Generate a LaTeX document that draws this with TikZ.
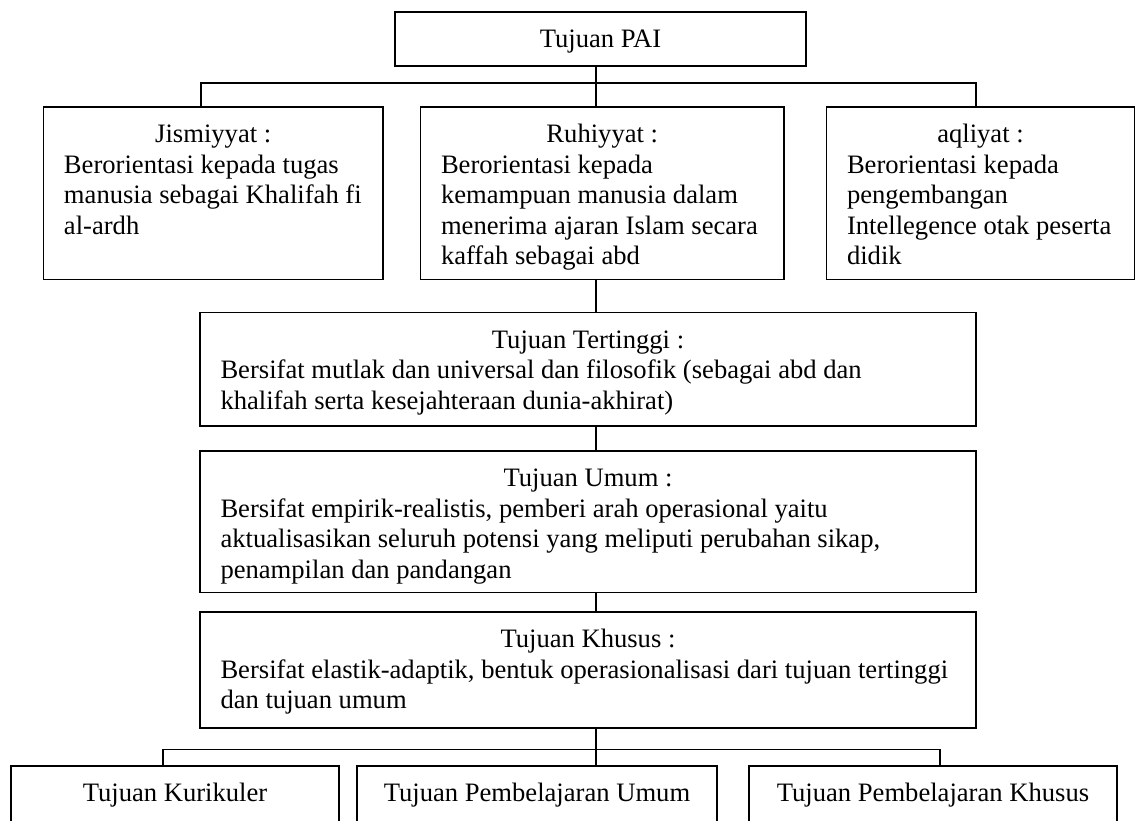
\documentclass[tikz,border=0pt]{standalone}
\usepackage{fontspec}
\setmainfont{Liberation Serif}[Ligatures=NoCommon]
\newcommand{\tbox}[4]{%
  \parbox[c][#1][t]{#2}{\fontsize{26.6pt}{30.5pt}\selectfont\frenchspacing
    \centering\rule{0pt}{36pt}#3\par
    \raggedright\leftskip=20.5pt #4\par}}
\tikzset{
  frame/.style={draw, line width=1.6pt, inner sep=0pt, outer sep=0pt, anchor=north west},
  link/.style={line width=1.6pt}
}
\begin{document}
\begin{tikzpicture}[x=1pt,y=-1pt]
\path[fill=white, use as bounding box] (0,0) rectangle (1136,820);
% top
\node[frame] (top) at (395,11.7) {\tbox{54.3pt}{411pt}{Tujuan PAI}{}};
% first row
\node[frame] (jis) at (43.5,106.7) {\tbox{172.6pt}{339.5pt}{Jismiyyat :}{Berorientasi kepada tugas\\ manusia sebagai Khalifah fi\\ al-ardh}};
\node[frame] (ruh) at (420.5,106.7) {\tbox{172.6pt}{363.5pt}{Ruhiyyat :}{Berorientasi kepada\\ kemampuan manusia dalam\\ menerima ajaran Islam secara\\ kaffah sebagai abd}};
\node[frame] (aql) at (826.5,106.7) {\tbox{172.6pt}{308pt}{aqliyat :}{Berorientasi kepada\\ pengembangan\\ Intellegence otak peserta\\ didik}};
% middle column
\node[frame] (tert) at (200,312.3) {\tbox{113.4pt}{776pt}{Tujuan Tertinggi :}{Bersifat mutlak dan universal dan filosofik (sebagai abd dan\\ khalifah serta kesejahteraan dunia-akhirat)}};
\node[frame] (umum) at (200,450.7) {\tbox{141.6pt}{776pt}{Tujuan Umum :}{Bersifat empirik-realistis, pemberi arah operasional yaitu\\ aktualisasikan seluruh potensi yang meliputi perubahan sikap,\\ penampilan dan pandangan}};
\node[frame] (khus) at (200,611.7) {\tbox{116pt}{776pt}{Tujuan Khusus :}{Bersifat elastik-adaptik, bentuk operasionalisasi dari tujuan tertinggi\\ dan tujuan umum}};
% bottom row
\node[frame] (kur) at (11,765.7) {\tbox{80pt}{328pt}{Tujuan Kurikuler}{}};
\node[frame] (pum) at (357,765.7) {\tbox{80pt}{360pt}{Tujuan Pembelajaran Umum}{}};
\node[frame] (pkh) at (749,765.7) {\tbox{80pt}{368pt}{Tujuan Pembelajaran Khusus}{}};
% connector coordinates
\coordinate (c1) at (596,82.7);
\coordinate (b1l) at (201,82.7);
\coordinate (b1r) at (976,82.7);
\coordinate (b2l) at (163,749.3);
\coordinate (b2r) at (940,749.3);
% connectors
\draw[link] (top.south -| c1) -- (ruh.north -| c1);
\draw[link] (jis.north -| b1l) -- (b1l) -- (b1r) -- (aql.north -| b1r);
\draw[link] (ruh.south -| c1) -- (tert.north -| c1);
\draw[link] (tert.south -| c1) -- (umum.north -| c1);
\draw[link] (umum.south -| c1) -- (khus.north -| c1);
\draw[link] (khus.south -| c1) -- (pum.north -| c1);
\draw[link] (kur.north -| b2l) -- (b2l) -- (b2r) -- (pkh.north -| b2r);
\end{tikzpicture}
\end{document}
